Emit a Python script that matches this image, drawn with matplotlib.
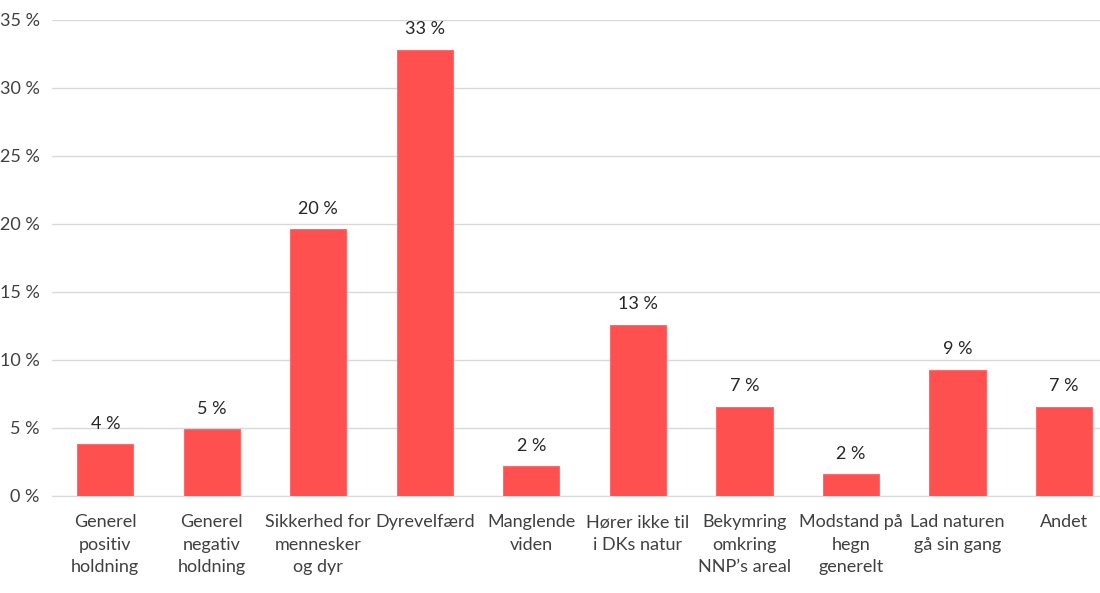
import matplotlib
matplotlib.use('Agg')
import matplotlib.pyplot as plt

categories = ['Generel\npositiv\nholdning', 'Generel\nnegativ\nholdning', 'Sikkerhed for\nmennesker\nog dyr',
              'Dyrevelfærd', 'Manglende\nviden', 'Hører ikke til\ni DKs natur', 'Bekymring\nomkring\nNNP’s areal',
              'Modstand på\nhegn\ngenerelt', 'Lad naturen\ngå sin gang', 'Andet']
values = [3.8, 4.9, 19.6, 32.8, 2.2, 12.6, 6.55, 1.6, 9.3, 6.55]
yticks = [0, 5, 10, 15, 20, 25, 30, 35]

plt.rcParams['font.family'] = ['Lato', 'DejaVu Sans']

fig = plt.figure(figsize=(11, 5.93), dpi=100)
ax = fig.add_axes([52/1100, 97/593, 1048/1100, 476/593])

x = list(range(len(values)))
ax.bar(x, values, width=0.53, color='#ff5050', edgecolor='#ff6a6a', linewidth=0.8, zorder=3)

for xi, v in zip(x, values):
    ax.annotate('{:.0f} %'.format(v), (xi, v), xytext=(0, 9), textcoords='offset points',
                ha='center', va='bottom', fontsize=13, color='#262626')

ax.set_xlim(-0.5, 9.34)
ax.set_ylim(0, 35)
ax.set_yticks(yticks)
ax.set_yticklabels(['{} %'.format(t) for t in yticks], fontsize=13, color='#404040')
ax.set_xticks(x)
ax.set_xticklabels(categories, fontsize=13, color='#404040', linespacing=1.5, va='top')
ax.tick_params(axis='both', length=0)
ax.tick_params(axis='x', pad=13)
ax.tick_params(axis='y', pad=9)
ax.grid(axis='y', color='#d9d9d9', linewidth=1, zorder=0)
for s in ['top', 'right', 'left']:
    ax.spines[s].set_visible(False)
ax.spines['bottom'].set_color('#d9d9d9')

plt.savefig('out.png', dpi=100)
